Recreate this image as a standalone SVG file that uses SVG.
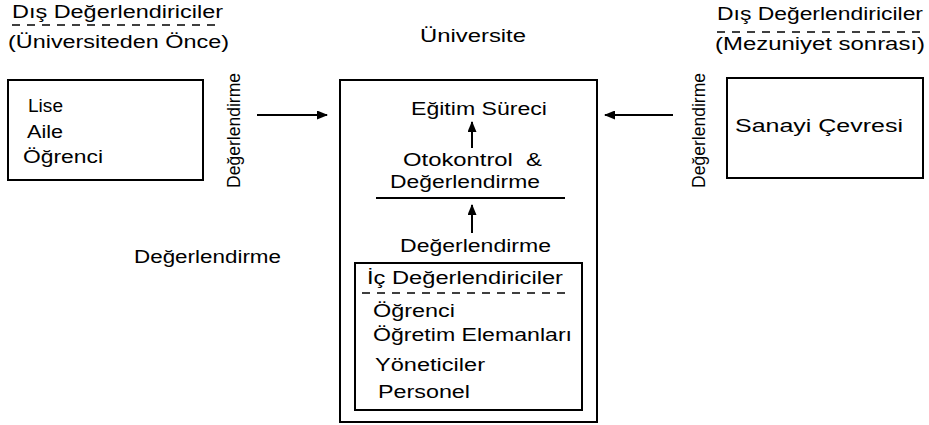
<svg xmlns="http://www.w3.org/2000/svg" width="929" height="425" viewBox="0 0 929 425">
<style>
text{font-family:"Liberation Sans",Arial,sans-serif;font-size:17.5px;fill:#000;white-space:pre}
.vt{font-size:18.5px}
.box{fill:none;stroke:#000;stroke-width:2}
.ln{stroke:#000;stroke-width:2;fill:none}
.dash{stroke:#000;stroke-width:1.5;stroke-dasharray:8 7;fill:none}
</style>
<defs>
<marker id="ah" markerWidth="11" markerHeight="9" refX="10" refY="4.5" orient="auto" markerUnits="userSpaceOnUse">
<path d="M0,0 L11,4.5 L0,9 z" fill="#000"/>
</marker>
</defs>
<rect width="929" height="425" fill="#fff"/>
<g id="title-left">
<text x="12" y="18" textLength="211" lengthAdjust="spacingAndGlyphs">Dış Değerlendiriciler</text>
<line class="dash" x1="12" y1="25" x2="222" y2="25"/>
<text x="8" y="48" textLength="221" lengthAdjust="spacingAndGlyphs">(Üniversiteden Önce)</text>
</g>
<g id="title-center">
<text x="420" y="42" textLength="106" lengthAdjust="spacingAndGlyphs">Üniversite</text>
</g>
<g id="title-right">
<text x="717" y="20" textLength="206" lengthAdjust="spacingAndGlyphs">Dış Değerlendiriciler</text>
<line class="dash" x1="717" y1="32" x2="922" y2="32"/>
<text x="715" y="50" textLength="210" lengthAdjust="spacingAndGlyphs">(Mezuniyet sonrası)</text>
</g>
<g id="node-left">
<rect class="box" x="8" y="80" width="195" height="100"/>
<text x="28" y="112" textLength="35" lengthAdjust="spacingAndGlyphs">Lise</text>
<text x="27" y="138" textLength="36" lengthAdjust="spacingAndGlyphs">Aile</text>
<text x="23" y="163" textLength="80" lengthAdjust="spacingAndGlyphs">Öğrenci</text>
</g>
<g id="node-right">
<rect class="box" x="727" y="78" width="196" height="100"/>
<text x="735" y="132" textLength="168" lengthAdjust="spacingAndGlyphs">Sanayi Çevresi</text>
</g>
<g id="label-left-vertical">
<text class="vt" transform="translate(240,188) rotate(-90)" x="0" y="0" textLength="115" lengthAdjust="spacingAndGlyphs">Değerlendirme</text>
</g>
<g id="label-right-vertical">
<text class="vt" transform="translate(705,188) rotate(-90)" x="0" y="0" textLength="115" lengthAdjust="spacingAndGlyphs">Değerlendirme</text>
</g>
<g id="label-left">
<text x="134" y="263" textLength="147" lengthAdjust="spacingAndGlyphs">Değerlendirme</text>
</g>
<g id="node-university">
<rect class="box" x="340" y="80" width="257" height="342"/>
<text x="411" y="115" textLength="136" lengthAdjust="spacingAndGlyphs">Eğitim Süreci</text>
<text x="403" y="166" textLength="139" lengthAdjust="spacingAndGlyphs">Otokontrol  &amp;</text>
<text x="390" y="188" textLength="150" lengthAdjust="spacingAndGlyphs">Değerlendirme</text>
<line class="ln" x1="376" y1="198" x2="565" y2="198"/>
<text x="400" y="252" textLength="151" lengthAdjust="spacingAndGlyphs">Değerlendirme</text>
</g>
<g id="node-internal">
<rect class="box" x="355" y="263" width="227" height="147"/>
<text x="367" y="284" textLength="196" lengthAdjust="spacingAndGlyphs">İç Değerlendiriciler</text>
<line class="dash" x1="362" y1="293" x2="571" y2="293"/>
<text x="373" y="317" textLength="82" lengthAdjust="spacingAndGlyphs">Öğrenci</text>
<text x="373" y="341" textLength="199" lengthAdjust="spacingAndGlyphs">Öğretim Elemanları</text>
<text x="375" y="371" textLength="110" lengthAdjust="spacingAndGlyphs">Yöneticiler</text>
<text x="378" y="398" textLength="92" lengthAdjust="spacingAndGlyphs">Personel</text>
</g>
<g id="connectors">
<line class="ln" x1="257" y1="115" x2="327" y2="115" marker-end="url(#ah)"/>
<line class="ln" x1="673" y1="115" x2="605" y2="115" marker-end="url(#ah)"/>
<line class="ln" x1="472" y1="148" x2="472" y2="122" marker-end="url(#ah)"/>
<line class="ln" x1="472" y1="233" x2="472" y2="205" marker-end="url(#ah)"/>
</g>
</svg>
